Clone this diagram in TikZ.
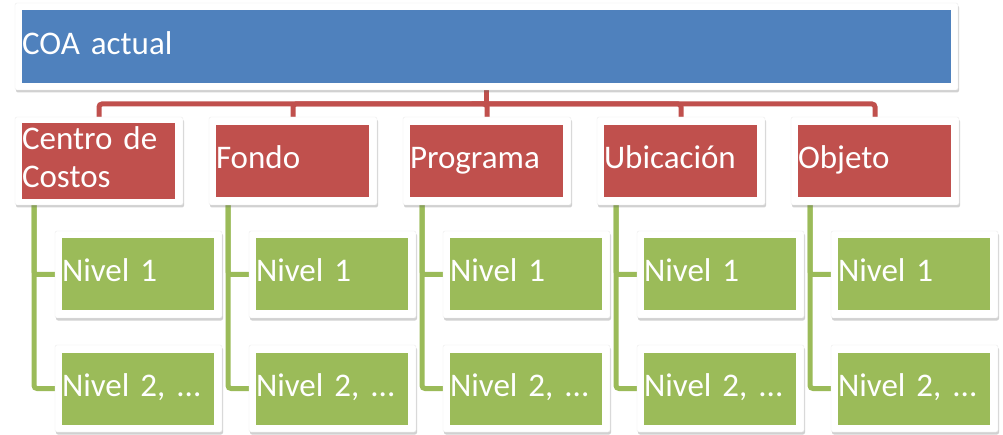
\documentclass[tikz,border=0pt]{standalone}
\usepackage{fontspec}
\setmainfont{Carlito}
\usetikzlibrary{shadows,backgrounds}
\definecolor{cblue}{HTML}{4F81BD}
\definecolor{cred}{HTML}{C0504D}
\definecolor{cgreen}{HTML}{9BBB59}
\tikzset{
  frame/.style={draw=black!8, line width=0.4pt, fill=white, rounded corners=2pt, inner sep=0pt,
    drop shadow={shadow xshift=1pt, shadow yshift=-2.5pt, opacity=0.3, fill=black!60}},
  boxtext/.style={inner sep=0pt, text=white, align=left, font=\fontsize{33}{38}\selectfont, anchor=center},
  bluebox/.style={boxtext, fill=cblue, minimum width=929pt, minimum height=73pt, text width=929pt},
  redbox/.style={boxtext, fill=cred, minimum width=153pt, minimum height=72pt, text width=153pt},
  greenbox/.style={boxtext, fill=cgreen, minimum width=152pt, minimum height=72pt, text width=152pt},
  redline/.style={draw=cred, line width=5pt, rounded corners=3pt},
  greenline/.style={draw=cgreen, line width=5pt, rounded corners=3pt}
}
\begin{document}
\begin{tikzpicture}[x=1pt,y=-1pt]
\useasboundingbox (0,0) rectangle (1003,435);
% top
\node[frame, minimum width=943pt, minimum height=87pt] (topf) at (486.5,46.5) {};
\node[bluebox] (top) at (486.5,46.5) {COA actual\strut};
\coordinate (hub) at (486.5,104);
\foreach \i/\t in {0/{\strut Centro de\\Costos\strut},1/Fondo\strut,2/Programa\strut,3/Ubicación\strut,4/Objeto\strut}{
  \node[frame, minimum width=168pt, minimum height=88pt] (rf\i) at ({99+194*\i},161) {};
  \node[redbox] (r\i) at ({98.5+194*\i},161) {\t};
  \node[frame, minimum width=167pt, minimum height=87pt] (gaf\i) at ({138.5+194*\i},274.5) {};
  \node[greenbox] (ga\i) at ({138+194*\i},274) {Nivel 1\strut};
  \node[frame, minimum width=167pt, minimum height=87pt] (gbf\i) at ({138.5+194*\i},388.5) {};
  \node[greenbox] (gb\i) at ({138+194*\i},389) {Nivel 2, ...\strut};
  \coordinate (gs\i) at ({34+194*\i},205);
}
\begin{scope}[on background layer]
\draw[redline] (topf.south) -- (hub);
\foreach \i in {0,...,4}{
  \draw[redline] (hub) -| (rf\i.north);
  \draw[greenline] (gs\i) |- (gaf\i.west);
  \draw[greenline] (gs\i) |- (gbf\i.west);
}
\end{scope}
\end{tikzpicture}
\end{document}
